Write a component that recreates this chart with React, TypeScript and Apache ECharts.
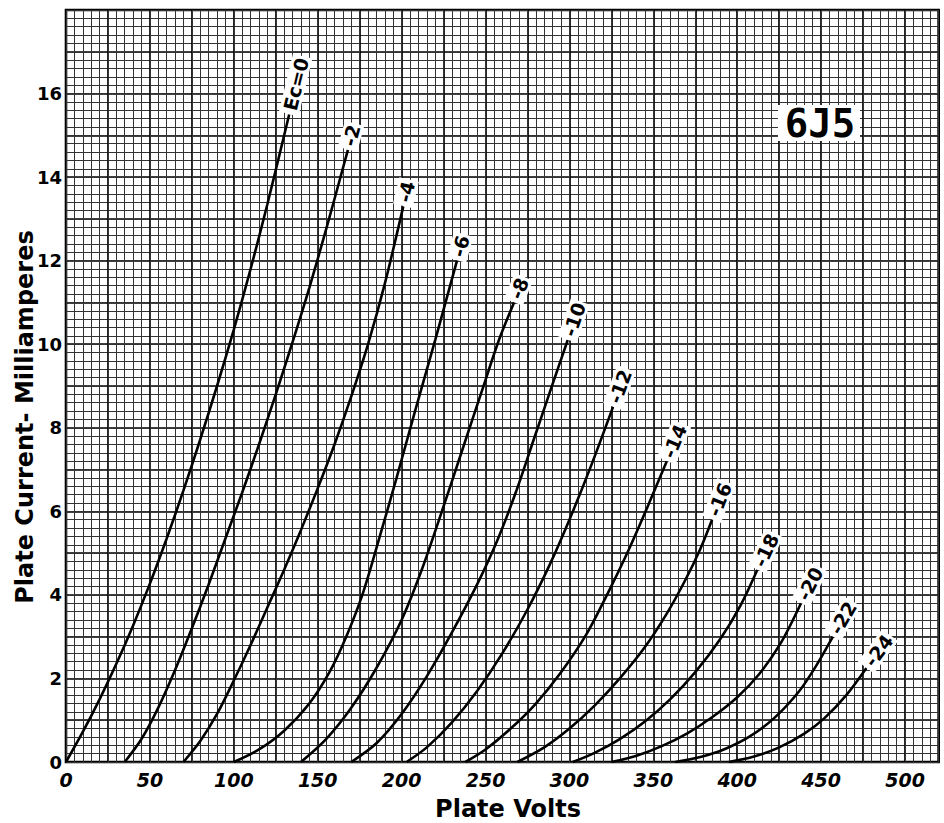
import React, { useEffect, useRef } from "react";
import * as echarts from "echarts";

// Grid bias (volts) of each curve and its printed label
const gridBias = [0, -2, -4, -6, -8, -10, -12, -14, -16, -18, -20, -22, -24];
const curveLabels = ["Ec=0", "-2", "-4", "-6", "-8", "-10", "-12", "-14", "-16", "-18", "-20", "-22", "-24"];

// Plate volts, plate current (mA)
const ec0 = [[0, 0], [10, 0.72], [20, 1.5], [30, 2.35], [40, 3.27], [50, 4.27], [60, 5.35], [70, 6.5], [80, 7.72], [90, 9.0], [100, 10.35], [110, 11.8], [120, 13.35], [133, 15.5]];
const ec2 = [[35, 0], [45, 0.55], [55, 1.3], [65, 2.2], [75, 3.2], [85, 4.25], [95, 5.35], [105, 6.45], [115, 7.6], [125, 8.8], [135, 10.05], [145, 11.35], [155, 12.75], [168, 14.65]];
const ec4 = [[70, 0], [80, 0.5], [90, 1.15], [100, 1.95], [110, 2.8], [120, 3.7], [130, 4.6], [140, 5.55], [150, 6.55], [160, 7.6], [170, 8.75], [180, 10.0], [190, 11.45], [201, 13.3]];
const ec6 = [[100, 0], [115, 0.3], [130, 0.75], [145, 1.4], [157, 2.15], [167, 3.0], [177, 4.05], [187, 5.4], [197, 6.8], [208, 8.4], [220, 10.1], [233, 12.0]];
const ec8 = [[140, 0], [155, 0.55], [170, 1.3], [185, 2.25], [200, 3.4], [212, 4.6], [224, 6.0], [236, 7.45], [248, 8.9], [258, 10.1], [267, 11.0]];
const ec10 = [[170, 0], [185, 0.45], [200, 1.15], [215, 2.05], [230, 3.1], [245, 4.25], [257, 5.3], [268, 6.45], [279, 7.75], [290, 9.05], [299, 10.1]];
const ec12 = [[203, 0], [215, 0.35], [230, 0.95], [245, 1.7], [260, 2.6], [275, 3.65], [288, 4.7], [300, 5.8], [313, 7.1], [326, 8.5]];
const ec14 = [[238, 0], [250, 0.3], [265, 0.8], [280, 1.4], [295, 2.15], [310, 3.05], [323, 4.05], [335, 5.05], [347, 6.15], [358, 7.2]];
const ec16 = [[269, 0], [285, 0.35], [300, 0.8], [315, 1.35], [330, 2.0], [345, 2.75], [358, 3.55], [369, 4.35], [378, 5.1], [385, 5.8]];
const ec18 = [[302, 0], [315, 0.22], [330, 0.55], [345, 0.97], [360, 1.5], [375, 2.15], [390, 2.95], [402, 3.75], [412, 4.6]];
const ec20 = [[325, 0], [340, 0.15], [355, 0.38], [370, 0.68], [385, 1.07], [400, 1.55], [413, 2.1], [426, 2.85], [438, 3.8]];
const ec22 = [[363, 0], [378, 0.12], [392, 0.3], [407, 0.6], [422, 1.05], [437, 1.7], [447, 2.3], [457, 3.0]];
const ec24 = [[395, 0], [410, 0.13], [425, 0.35], [440, 0.68], [452, 1.05], [465, 1.6], [477, 2.25]];
const curves = [ec0, ec2, ec4, ec6, ec8, ec10, ec12, ec14, ec16, ec18, ec20, ec22, ec24];

// Tick labels
const xTickLabels = [0, 50, 100, 150, 200, 250, 300, 350, 400, 450, 500];
const yTickLabels = [0, 2, 4, 6, 8, 10, 12, 14, 16];

const X_MAX = 520;
const Y_MAX = 18;

export default function App() {
  const ref = useRef<HTMLDivElement>(null);

  useEffect(() => {
    if (!ref.current) return;
    const chart = echarts.init(ref.current, null, { renderer: "svg" });

    const W = 944, H = 823;
    const gLeft = 66, gTop = 10, gRight = 5.4, gBottom = 61;
    const pxPerV = (W - gLeft - gRight) / X_MAX;
    const pxPerMA = (H - gTop - gBottom) / Y_MAX;
    const font = "DejaVu Sans";

    const labelData = curves.map((c, i) => {
      const a = c[c.length - 2];
      const b = c[c.length - 1];
      const ang = (Math.atan2((b[1] - a[1]) * pxPerMA, (b[0] - a[0]) * pxPerV) * 180) / Math.PI;
      return { name: curveLabels[i], value: [b[0], b[1]], label: { rotate: ang } };
    });

    const lineSeries = curves.map((c, i) => ({
      type: "line",
      name: String(gridBias[i]),
      data: c,
      xAxisIndex: 0,
      yAxisIndex: 0,
      smooth: 0.3,
      showSymbol: false,
      symbol: "none",
      lineStyle: { color: "#000", width: 2.6 },
      z: 5,
    }));

    chart.setOption({
      animation: false,
      backgroundColor: "#fff",
      grid: {
        left: gLeft,
        top: gTop,
        right: gRight,
        bottom: gBottom,
        show: true,
        borderColor: "#000",
        borderWidth: 2.6,
        backgroundColor: "transparent",
      },
      xAxis: [
        {
          type: "value",
          min: 0,
          max: X_MAX,
          interval: 25,
          position: "bottom",
          axisLine: { show: false },
          axisTick: { show: false },
          axisLabel: {
            formatter: (v: number) => (xTickLabels.includes(v) ? String(v) : ""),
            fontSize: 19,
            fontWeight: "bold",
            fontStyle: "italic",
            fontFamily: font,
            color: "#000",
            margin: 8,
          },
          splitLine: { show: true, lineStyle: { color: "#000", width: 1.7 } },
        },
        {
          type: "value",
          min: 0,
          max: X_MAX,
          interval: 5,
          position: "bottom",
          axisLine: { show: false },
          axisTick: { show: false },
          axisLabel: { show: false },
          splitLine: { show: true, lineStyle: { color: "#333", width: 1 } },
        },
      ],
      yAxis: [
        {
          type: "value",
          min: 0,
          max: Y_MAX,
          interval: 1,
          position: "left",
          axisLine: { show: false },
          axisTick: { show: false },
          axisLabel: {
            formatter: (v: number) => (yTickLabels.includes(v) ? String(v) : ""),
            fontSize: 18,
            fontWeight: "bold",
            fontFamily: font,
            color: "#000",
            margin: 4,
          },
          splitLine: { show: true, lineStyle: { color: "#000", width: 1.7 } },
        },
        {
          type: "value",
          min: 0,
          max: Y_MAX,
          interval: 0.2,
          position: "left",
          axisLine: { show: false },
          axisTick: { show: false },
          axisLabel: { show: false },
          splitLine: { show: true, lineStyle: { color: "#333", width: 1 } },
        },
      ],
      series: [
        ...lineSeries,
        {
          type: "scatter",
          data: labelData,
          symbol: "circle",
          symbolSize: 1,
          itemStyle: { color: "transparent", opacity: 1 },
          silent: true,
          z: 10,
          label: {
            show: true,
            formatter: (p: any) => p.name,
            position: [0, 0],
            align: "left",
            verticalAlign: "middle",
            fontSize: 19,
            fontWeight: "bold",
            fontStyle: "normal",
            fontFamily: font,
            color: "#000",
            opacity: 1,
            backgroundColor: "#fff",
            padding: [1, 2, 0, 4],
          },
        },
      ],
      graphic: [
        {
          type: "text",
          x: 25,
          y: 417,
          rotation: Math.PI / 2,
          style: {
            text: "Plate Current- Milliamperes",
            font: `bold 24px "${font}"`,
            textAlign: "center",
            textVerticalAlign: "middle",
            fill: "#000",
          },
        },
        {
          type: "text",
          x: 508,
          y: 809,
          style: {
            text: "Plate Volts",
            font: `bold 24px "${font}"`,
            textAlign: "center",
            textVerticalAlign: "middle",
            fill: "#000",
          },
        },
        {
          type: "rect",
          shape: { x: 778, y: 105, width: 82, height: 36 },
          style: { fill: "#fff" },
          z: 20,
        },
        {
          type: "text",
          x: 820,
          y: 123,
          z: 21,
          style: {
            text: "6J5",
            font: `bold 39px "DejaVu Sans Mono"`,
            textAlign: "center",
            textVerticalAlign: "middle",
            fill: "#000",
          },
        },
      ],
    });

    return () => chart.dispose();
  }, []);

  return (
    <div
      ref={ref}
      style={{ position: "absolute", left: 0, top: 0, width: 944, height: 823, background: "#fff" }}
    />
  );
}
